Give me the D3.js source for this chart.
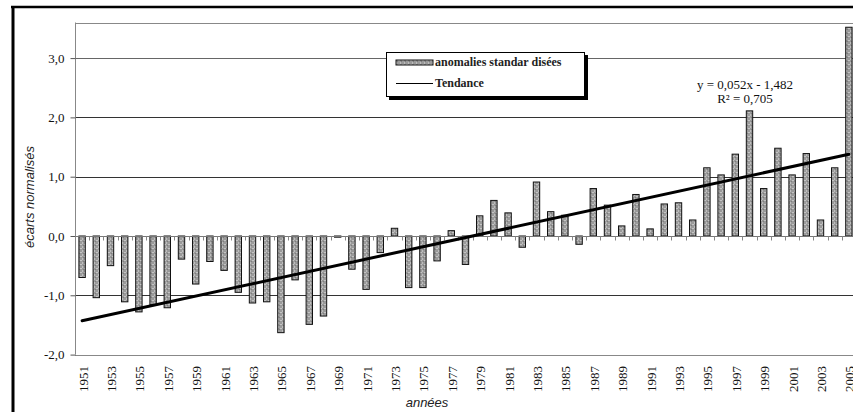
<!DOCTYPE html>
<html>
<head>
<meta charset="utf-8">
<script src="https://cdn.jsdelivr.net/npm/d3@7"></script>
<style>
  body { margin: 0; background: #fff; }
  svg { display: block; }
</style>
</head>
<body>
<div id="container"></div>
<script>
// années (catégories)
const years = [1951, 1952, 1953, 1954, 1955, 1956, 1957, 1958, 1959, 1960,
  1961, 1962, 1963, 1964, 1965, 1966, 1967, 1968, 1969, 1970,
  1971, 1972, 1973, 1974, 1975, 1976, 1977, 1978, 1979, 1980,
  1981, 1982, 1983, 1984, 1985, 1986, 1987, 1988, 1989, 1990,
  1991, 1992, 1993, 1994, 1995, 1996, 1997, 1998, 1999, 2000,
  2001, 2002, 2003, 2004, 2005];

// anomalies standardisées
const anomalies = [-0.70, -1.04, -0.50, -1.11, -1.28, -1.16, -1.21, -0.39, -0.81, -0.43,
  -0.58, -0.95, -1.13, -1.11, -1.63, -0.74, -1.49, -1.35, -0.02, -0.56,
  -0.90, -0.28, 0.13, -0.87, -0.87, -0.42, 0.09, -0.48, 0.34, 0.60,
  0.39, -0.19, 0.91, 0.41, 0.35, -0.14, 0.80, 0.52, 0.17, 0.70,
  0.12, 0.54, 0.56, 0.27, 1.15, 1.03, 1.38, 2.11, 0.80, 1.48,
  1.03, 1.39, 0.27, 1.15, 3.52];

const yTicks = [-2, -1, 0, 1, 2, 3];
const xLabels = years.filter(y => y % 2 === 1);

// tendance : y = 0,052x - 1,482 (x = rang de l'année)
const trendSlope = 0.052;
const trendIntercept = -1.482;
const equationLines = ["y = 0,052x - 1,482", "R² = 0,705"];
const legendLabels = ["anomalies standar disées", "Tendance"];

const W = 853, H = 412;
const SERIF = "'Liberation Serif', 'Times New Roman', serif";
const SANS = "'Liberation Sans', Arial, sans-serif";

const svg = d3.select("#container").append("svg")
  .attr("width", W)
  .attr("height", H);

const defs = svg.append("defs");
const pat = defs.append("pattern")
  .attr("id", "grain")
  .attr("patternUnits", "userSpaceOnUse")
  .attr("width", 4)
  .attr("height", 4);
pat.append("rect").attr("width", 4).attr("height", 4).attr("fill", "#9a9a9a");
pat.append("rect").attr("x", 0).attr("y", 0).attr("width", 2).attr("height", 1).attr("fill", "#c4c4c4");
pat.append("rect").attr("x", 2).attr("y", 2).attr("width", 1).attr("height", 2).attr("fill", "#bdbdbd");
pat.append("rect").attr("x", 3).attr("y", 1).attr("width", 1).attr("height", 1).attr("fill", "#7c7c7c");

const plotLeft = 75, plotRight = 856, plotTop = 22.5, plotBottom = 354.6;

const x = d3.scaleBand()
  .domain(years)
  .range([plotLeft, plotRight])
  .paddingInner(0.55)
  .paddingOuter(0.275);

const y = d3.scaleLinear()
  .domain([-2, 3.6])
  .range([plotBottom, plotTop]);

const cx = d => x(d) + x.bandwidth() / 2;

// cadre extérieur
svg.append("line")
  .attr("x1", 11).attr("x2", W).attr("y1", 7).attr("y2", 7)
  .attr("stroke", "#000").attr("stroke-width", 2.5);
svg.append("line")
  .attr("x1", 13).attr("x2", 13).attr("y1", 6).attr("y2", H)
  .attr("stroke", "#000").attr("stroke-width", 3);

// grille horizontale
svg.append("g")
  .selectAll("line")
  .data(yTicks.filter(v => v !== 0 && v !== -2))
  .join("line")
  .attr("x1", plotLeft).attr("x2", W)
  .attr("y1", d => Math.round(y(d)) + 0.5)
  .attr("y2", d => Math.round(y(d)) + 0.5)
  .attr("stroke", d => d === 3 ? "#666" : "#333");

// bords de la zone de tracé
svg.append("line")
  .attr("x1", plotLeft).attr("x2", W)
  .attr("y1", Math.round(plotTop) + 0.5).attr("y2", Math.round(plotTop) + 0.5)
  .attr("stroke", "#888");
svg.append("line")
  .attr("x1", plotLeft).attr("x2", W)
  .attr("y1", Math.round(y(-2)) + 0.5).attr("y2", Math.round(y(-2)) + 0.5)
  .attr("stroke", "#888");

// axe vertical
const yAxis = d3.axisLeft(y)
  .tickValues(yTicks)
  .tickSize(5)
  .tickPadding(6)
  .tickFormat(d => d3.format(".1f")(d).replace(".", ",").replace("\u2212", "-"));
const gy = svg.append("g")
  .attr("transform", `translate(${plotLeft + 0.5},0)`)
  .call(yAxis);
gy.select(".domain").attr("stroke", "#888").attr("d", `M0,${plotTop}V${plotBottom}`);
gy.selectAll(".tick line").attr("stroke", "#555");
gy.selectAll(".tick text")
  .attr("font-family", SERIF)
  .attr("font-size", 13)
  .attr("fill", "#111");

// barres
svg.append("g")
  .selectAll("rect")
  .data(years)
  .join("rect")
  .attr("x", d => x(d))
  .attr("width", x.bandwidth())
  .attr("y", (d, i) => y(Math.max(0, anomalies[i])))
  .attr("height", (d, i) => Math.abs(y(anomalies[i]) - y(0)))
  .attr("fill", "url(#grain)")
  .attr("stroke", "#111")
  .attr("stroke-width", 1);

// ligne du zéro avec graduations
const zeroY = Math.round(y(0)) + 0.5;
svg.append("line")
  .attr("x1", plotLeft).attr("x2", W)
  .attr("y1", zeroY).attr("y2", zeroY)
  .attr("stroke", "#777");
svg.append("g")
  .selectAll("line")
  .data(years)
  .join("line")
  .attr("x1", d => Math.round(x(d) - x.step() * x.paddingInner() / 2) + 0.5)
  .attr("x2", d => Math.round(x(d) - x.step() * x.paddingInner() / 2) + 0.5)
  .attr("y1", zeroY).attr("y2", zeroY + 4)
  .attr("stroke", "#888");

// tendance
svg.append("line")
  .attr("x1", cx(years[0]))
  .attr("y1", y(trendSlope * 1 + trendIntercept))
  .attr("x2", cx(years[years.length - 1]))
  .attr("y2", y(trendSlope * years.length + trendIntercept))
  .attr("stroke", "#000")
  .attr("stroke-width", 3)
  .attr("stroke-linecap", "round");

// étiquettes des années
svg.append("g")
  .selectAll("text")
  .data(xLabels)
  .join("text")
  .attr("transform", d => `translate(${cx(d) + 1},366) rotate(-90)`)
  .attr("text-anchor", "end")
  .attr("dominant-baseline", "central")
  .attr("font-family", SERIF)
  .attr("font-size", 13)
  .attr("fill", "#111")
  .text(d => d);

// titres des axes
svg.append("text")
  .attr("transform", "translate(34,197) rotate(-90)")
  .attr("text-anchor", "middle")
  .attr("font-family", SANS)
  .attr("font-style", "italic")
  .attr("font-size", 13)
  .attr("fill", "#222")
  .text("écarts normalisés");
svg.append("text")
  .attr("x", 427).attr("y", 407)
  .attr("text-anchor", "middle")
  .attr("font-family", SANS)
  .attr("font-style", "italic")
  .attr("font-size", 13)
  .attr("fill", "#222")
  .text("années");

// équation de la tendance
svg.append("g")
  .selectAll("text")
  .data(equationLines)
  .join("text")
  .attr("x", 745)
  .attr("y", (d, i) => 89 + i * 14)
  .attr("text-anchor", "middle")
  .attr("font-family", SERIF)
  .attr("font-size", 13)
  .attr("fill", "#111")
  .text(d => d);

// légende
const lg = svg.append("g").attr("transform", "translate(386,52)");
lg.append("rect").attr("x", 3).attr("y", 3).attr("width", 199).attr("height", 45).attr("fill", "#000");
lg.append("rect").attr("x", 0.5).attr("y", 0.5).attr("width", 198).attr("height", 44)
  .attr("fill", "#fff").attr("stroke", "#000");
lg.append("rect").attr("x", 10).attr("y", 8).attr("width", 37).attr("height", 5)
  .attr("fill", "url(#grain)").attr("stroke", "#111");
lg.append("line").attr("x1", 10).attr("x2", 47).attr("y1", 31.5).attr("y2", 31.5)
  .attr("stroke", "#000").attr("stroke-width", 1);
lg.selectAll("text.lbl")
  .data(legendLabels)
  .join("text")
  .attr("class", "lbl")
  .attr("x", 49)
  .attr("y", (d, i) => 14 + i * 21)
  .attr("font-family", SERIF)
  .attr("font-weight", "bold")
  .attr("font-size", 12)
  .attr("fill", "#222")
  .text(d => d);
</script>
</body>
</html>
